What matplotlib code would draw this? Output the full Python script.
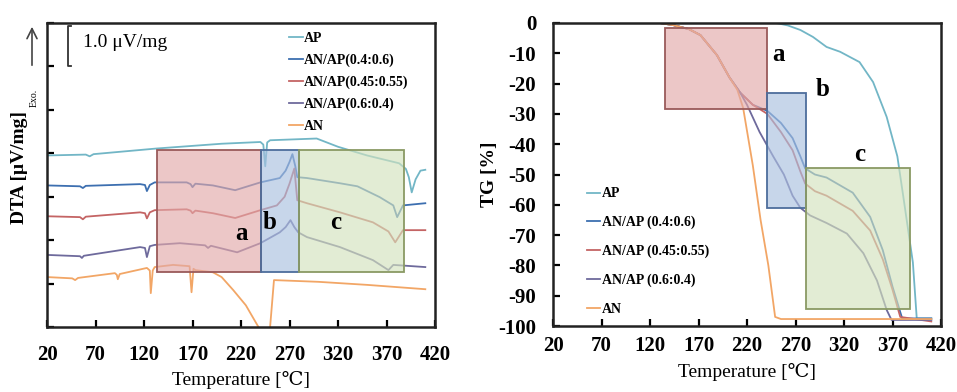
import matplotlib
matplotlib.use("Agg")
import matplotlib.pyplot as plt
from matplotlib.patches import Rectangle

plt.rcParams['font.family'] = ['Liberation Serif', 'DejaVu Serif']
plt.rcParams['mathtext.fontset'] = 'stix'

# ---------------- data ----------------
series_dta = ["AP", "AN/AP(0.4:0.6)", "AN/AP(0.45:0.55)", "AN/AP(0.6:0.4)", "AN"]
series_tg = ["AP", "AN/AP (0.4:0.6)", "AN/AP (0.45:0.55)", "AN/AP (0.6:0.4)", "AN"]
colors = ["#72b6c6", "#3d6fb0", "#c46464", "#6e6a9c", "#f2a666"]

# DTA curves (temperature in degC, signal in uV/mg offset units)
dta_ap_t = [20, 60, 64, 68, 133, 200, 240, 243, 245, 247, 250, 298, 320, 350, 383, 390, 393, 396, 400, 405, 410]
dta_ap_v = [3.95, 3.97, 3.93, 3.98, 4.11, 4.22, 4.26, 4.20, 3.70, 4.25, 4.30, 4.34, 4.15, 3.95, 3.77, 3.64, 3.45, 3.10, 3.40, 3.60, 3.62]

dta_a46_t = [20, 54, 57, 60, 116, 121, 123, 126, 131, 164, 168, 170, 173, 191, 214, 240, 260, 266, 270, 273, 276, 278, 288, 322, 340, 363, 377, 381, 387, 410]
dta_a46_v = [3.26, 3.24, 3.20, 3.25, 3.29, 3.27, 3.13, 3.27, 3.33, 3.33, 3.29, 3.22, 3.30, 3.26, 3.15, 3.33, 3.43, 3.60, 3.80, 3.98, 3.70, 3.45, 3.43, 3.31, 3.24, 2.99, 2.80, 2.53, 2.80, 2.85]

dta_a4555_t = [20, 54, 57, 60, 116, 121, 123, 126, 131, 164, 168, 170, 173, 191, 214, 240, 257, 265, 270, 275, 278, 288, 322, 356, 372, 379, 387, 410]
dta_a4555_v = [2.55, 2.53, 2.48, 2.54, 2.64, 2.62, 2.50, 2.64, 2.69, 2.71, 2.68, 2.62, 2.68, 2.62, 2.51, 2.69, 2.80, 3.00, 3.30, 3.65, 2.92, 2.85, 2.64, 2.41, 2.20, 1.95, 2.23, 2.23]

dta_a64_t = [20, 54, 56, 58, 116, 121, 123, 126, 131, 157, 183, 186, 189, 216, 240, 260, 266, 271, 275, 279, 288, 322, 356, 372, 377, 410]
dta_a64_v = [1.66, 1.63, 1.59, 1.64, 1.84, 1.82, 1.61, 1.86, 1.89, 1.93, 1.88, 1.82, 1.87, 1.72, 1.93, 2.18, 2.30, 2.46, 2.30, 2.18, 2.07, 1.84, 1.54, 1.31, 1.43, 1.38]

dta_an_t = [20, 46, 49, 52, 90, 92, 93, 95, 123, 126, 127, 129, 131, 150, 167, 169, 171, 173, 191, 200, 212, 225, 232, 238, 242, 248, 250, 254, 300, 350, 410]
dta_an_v = [1.15, 1.12, 1.08, 1.13, 1.24, 1.20, 1.10, 1.22, 1.36, 1.30, 0.78, 1.30, 1.38, 1.43, 1.40, 0.80, 1.34, 1.31, 1.26, 1.15, 0.85, 0.50, 0.23, 0.00, -0.50, -0.50, 0.00, 1.08, 1.04, 0.97, 0.87]

# TG curves (temperature in degC, mass change in %)
tg_ap_t = [20, 250, 262, 275, 288, 302, 316, 336, 350, 364, 375, 381, 391, 395, 410]
tg_ap_v = [0, 0, -0.8, -2.3, -4.6, -7.9, -9.5, -12.9, -19.5, -31.0, -44.0, -57.0, -79.0, -97.5, -97.5]

tg_a46_t = [20, 130, 144, 160, 172, 189, 202, 213, 226, 241, 255, 267, 275, 280, 290, 302, 329, 347, 360, 370, 380, 410]
tg_a46_v = [0, 0, -0.7, -2.0, -4.0, -10.6, -18.0, -23.0, -27.0, -29.0, -33.0, -38.0, -44.0, -48.0, -50.0, -51.0, -56.0, -64.0, -75.0, -87.0, -97.5, -97.5]

tg_a4555_t = [20, 130, 144, 160, 172, 189, 202, 213, 226, 241, 255, 267, 275, 280, 290, 302, 329, 347, 360, 370, 378, 410]
tg_a4555_v = [0, 0, -0.7, -2.0, -4.0, -10.6, -18.0, -23.0, -27.0, -30.0, -36.0, -42.0, -49.0, -53.0, -55.5, -57.0, -62.0, -68.5, -78.0, -88.0, -97.0, -98.5]

tg_a64_t = [20, 130, 144, 160, 172, 189, 202, 213, 220, 233, 247, 258, 267, 275, 285, 302, 323, 340, 354, 364, 369, 410]
tg_a64_v = [0, 0, -0.7, -2.0, -4.0, -10.6, -18.0, -23.0, -27.0, -36.0, -44.0, -50.0, -57.0, -61.0, -63.5, -66.0, -69.5, -76.0, -85.0, -94.7, -98.0, -98.0]

tg_an_t = [20, 130, 144, 160, 172, 189, 202, 210, 216, 226, 234, 242, 249, 255, 410]
tg_an_v = [0, 0, -0.7, -2.0, -4.0, -10.6, -18.0, -22.0, -28.0, -47.0, -65.0, -80.0, -97.0, -97.7, -97.7]

# regions a, b, c
region_labels = ["a", "b", "c"]
dta_box_t0 = [133, 241, 280]
dta_box_t1 = [241, 280, 388]
dta_box_lo = [1.26, 1.26, 1.26]
dta_box_hi = [4.07, 4.07, 4.07]
tg_box_t0 = [135, 241, 281]
tg_box_t1 = [241, 281, 388]
tg_box_lo = [-28.5, -61.0, -94.5]
tg_box_hi = [-1.5, -23.0, -48.0]
box_fill = ["#e2a9a9", "#a9c0e0", "#d3e2bd"]
box_edge = ["#9a5a5a", "#4d6d9c", "#8a9a64"]

x_ticks = [20, 70, 120, 170, 220, 270, 320, 370, 420]
tg_ticks = [0, -10, -20, -30, -40, -50, -60, -70, -80, -90, -100]

dta_t = [dta_ap_t, dta_a46_t, dta_a4555_t, dta_a64_t, dta_an_t]
dta_v = [dta_ap_v, dta_a46_v, dta_a4555_v, dta_a64_v, dta_an_v]
tg_t = [tg_ap_t, tg_a46_t, tg_a4555_t, tg_a64_t, tg_an_t]
tg_v = [tg_ap_v, tg_a46_v, tg_a4555_v, tg_a64_v, tg_an_v]

# ---------------- figure ----------------
W, H = 957, 392
fig = plt.figure(figsize=(W / 100, H / 100), dpi=100)
ax1 = fig.add_axes([47 / W, 1 - 327 / H, 388 / W, 304 / H])
ax2 = fig.add_axes([553 / W, 1 - 326 / H, 388 / W, 303 / H])

tick_font = dict(fontsize=15, fontweight='bold')

for ax in (ax1, ax2):
    for sp in ax.spines.values():
        sp.set_linewidth(1.8)
        sp.set_color('#222222')
    ax.set_xlim(20, 420)
    ax.set_xticks(x_ticks)
    ax.tick_params(direction='in', length=5, width=1.6, top=False, right=False)

# ---- DTA ----
for t, v, c, lab in zip(dta_t, dta_v, colors, series_dta):
    ax1.plot(t, v, color=c, lw=1.3, label=lab, zorder=2)
for i in range(3):
    ax1.add_patch(Rectangle((dta_box_t0[i], dta_box_lo[i]), dta_box_t1[i] - dta_box_t0[i],
                            dta_box_hi[i] - dta_box_lo[i], facecolor=box_fill[i], alpha=0.65,
                            edgecolor='none', zorder=3))
    ax1.add_patch(Rectangle((dta_box_t0[i], dta_box_lo[i]), dta_box_t1[i] - dta_box_t0[i],
                            dta_box_hi[i] - dta_box_lo[i], facecolor='none',
                            edgecolor=box_edge[i], lw=1.3, zorder=4))
ax1.text(220, 2.15, region_labels[0], fontsize=18, fontweight='bold', ha='center', va='center', zorder=5)
ax1.text(250, 2.4, region_labels[1], fontsize=18, fontweight='bold', ha='center', va='center', zorder=5)
ax1.text(318, 2.4, region_labels[2], fontsize=18, fontweight='bold', ha='center', va='center', zorder=5)
ax1.set_ylim(0, 7)
ax1.set_yticks(range(0, 8))
ax1.set_yticklabels([])
ax1.set_xticklabels([str(x) for x in x_ticks], **tick_font)
ax1.tick_params(axis='x', pad=13)
ax1.set_xlabel("Temperature [\u2103]", fontsize=14, labelpad=4)

# scale bar
ax1.plot([45, 41.6, 41.6, 45], [6.92, 6.92, 6.02, 6.02], color='#333333', lw=1.3, clip_on=False)
ax1.text(57, 6.55, "1.0 \u03bcV/mg", fontsize=14, va='center', ha='left')

leg1 = ax1.legend(loc='upper left', bbox_to_anchor=(0.6, 1.0), frameon=False,
                  prop=dict(family=['Liberation Serif'], weight='bold', size=10),
                  handlelength=1.0, handletextpad=0.1, labelspacing=0.62, borderaxespad=0.25)

fig.text(20 / W, 1 - 168 / H, "DTA [\u03bcV/mg]", rotation=90, fontsize=14, fontweight='bold',
         ha='center', va='center')
fig.text(34 / W, 1 - 98 / H, "Exo.", rotation=90, fontsize=7, ha='center', va='center')
ax1.annotate('', xy=(32, H - 24), xytext=(32, H - 68), xycoords='figure pixels',
             textcoords='figure pixels',
             arrowprops=dict(arrowstyle='->', lw=1.2, color='#444444', mutation_scale=18))

# ---- TG ----
for t, v, c, lab in zip(tg_t, tg_v, colors, series_tg):
    ax2.plot(t, v, color=c, lw=1.3, label=lab, zorder=2)
for i in range(3):
    ax2.add_patch(Rectangle((tg_box_t0[i], tg_box_lo[i]), tg_box_t1[i] - tg_box_t0[i],
                            tg_box_hi[i] - tg_box_lo[i], facecolor=box_fill[i], alpha=0.65,
                            edgecolor='none', zorder=3))
    ax2.add_patch(Rectangle((tg_box_t0[i], tg_box_lo[i]), tg_box_t1[i] - tg_box_t0[i],
                            tg_box_hi[i] - tg_box_lo[i], facecolor='none',
                            edgecolor=box_edge[i], lw=1.3, zorder=4))
ax2.text(252, -10.5, region_labels[0], fontsize=18, fontweight='bold', ha='center', va='center')
ax2.text(298, -22, region_labels[1], fontsize=18, fontweight='bold', ha='center', va='center')
ax2.text(336, -43.5, region_labels[2], fontsize=18, fontweight='bold', ha='center', va='center')
ax2.set_ylim(-100, 0)
ax2.set_yticks(tg_ticks)
ax2.set_yticklabels([str(v) for v in tg_ticks], **tick_font)
ax2.set_xticklabels([str(x) for x in x_ticks], **tick_font)
ax2.tick_params(axis='x', pad=7)
ax2.tick_params(axis='y', pad=12)
ax2.set_xlabel("Temperature [\u2103]", fontsize=14, labelpad=5)
ax2.set_ylabel("TG [%]", fontsize=14, fontweight='bold', labelpad=0)

leg2 = ax2.legend(loc='upper left', bbox_to_anchor=(0.065, 0.485), frameon=False,
                  prop=dict(family=['Liberation Serif'], weight='bold', size=10),
                  handlelength=1.0, handletextpad=0.1, labelspacing=1.12, borderaxespad=0.2)

fig.savefig("out.png", dpi=100)
